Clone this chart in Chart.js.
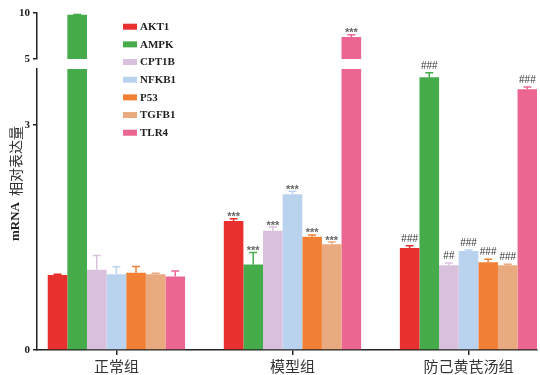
<!DOCTYPE html>
<html>
<head>
<meta charset="utf-8">
<script src="https://cdn.jsdelivr.net/npm/chart.js@4/dist/chart.umd.min.js"></script>
<style>
  html, body { margin: 0; padding: 0; background: #fff; }
  #wrap { position: relative; width: 540px; height: 375px; }
  #wrap canvas { position: absolute; left: 0; top: 0; }
</style>
</head>
<body>
<div id="wrap">
  <canvas id="lower" width="540" height="375"></canvas>
  <canvas id="upper" width="540" height="375"></canvas>
</div>
<script>
// Groups along the x axis
const groups = ['正常组', '模型组', '防己黄芪汤组'];

// Genes (one bar per gene in each group)
const genes = ['AKT1', 'AMPK', 'CPT1B', 'NFKB1', 'P53', 'TGFB1', 'TLR4'];
const geneColors = ['#e8312f', '#46ac4b', '#d9c1dd', '#b9d3ee', '#f18035', '#e8aa7e', '#eb6791'];

// Relative mRNA expression, mean per group
const AKT1  = [1.00, 1.72, 1.36];
const AMPK  = [9.82, 1.14, 3.64];
const CPT1B = [1.07, 1.59, 1.13];
const NFKB1 = [1.01, 2.08, 1.32];
const P53   = [1.03, 1.51, 1.17];
const TGFB1 = [1.01, 1.41, 1.13];
const TLR4  = [0.98, 7.39, 3.48];

// Upper error (SD) per group
const AKT1_err  = [0.01, 0.03, 0.03];
const AMPK_err  = [0.03, 0.16, 0.06];
const CPT1B_err = [0.19, 0.05, 0.03];
const NFKB1_err = [0.10, 0.04, 0.015];
const P53_err   = [0.085, 0.025, 0.04];
const TGFB1_err = [0.015, 0.03, 0.015];
const TLR4_err  = [0.075, 0.25, 0.03];

// Significance marks per gene: [control, model, treatment]
const AKT1_sig  = ['', '***', '###'];
const AMPK_sig  = ['', '***', '###'];
const CPT1B_sig = ['', '***', '##'];
const NFKB1_sig = ['', '***', '###'];
const P53_sig   = ['', '***', '###'];
const TGFB1_sig = ['', '***', '###'];
const TLR4_sig  = ['', '***', '###'];

// Broken y axis: lower and upper segments
const lowerRange = [0, 3.75];
const lowerTicks = [0, 3];
const upperRange = [5, 10];
const upperTicks = [5, 10];

const means  = [AKT1, AMPK, CPT1B, NFKB1, P53, TGFB1, TLR4];
const errors = [AKT1_err, AMPK_err, CPT1B_err, NFKB1_err, P53_err, TGFB1_err, TLR4_err];
const marks  = [AKT1_sig, AMPK_sig, CPT1B_sig, NFKB1_sig, P53_sig, TGFB1_sig, TLR4_sig];

const AXIS = '#222';

function buildDatasets() {
  return genes.map((g, i) => ({
    label: g,
    data: means[i].map((v, j) => ({ x: j, y: v })),
    errors: errors[i],
    marks: marks[i],
    backgroundColor: geneColors[i],
    borderWidth: 0,
    categoryPercentage: 0.78,
    barPercentage: 1.0
  }));
}

// Error bars with caps, plus significance marks above them
const errorBars = {
  id: 'errorBars',
  afterDatasetsDraw(chart) {
    const { ctx } = chart;
    const y = chart.scales.y;
    chart.data.datasets.forEach((ds, i) => {
      const meta = chart.getDatasetMeta(i);
      meta.data.forEach((bar, j) => {
        const v = ds.data[j].y;
        if (v < y.min || v > y.max) return;
        const top = y.getPixelForValue(v + ds.errors[j]);
        ctx.save();
        ctx.strokeStyle = ds.backgroundColor;
        ctx.lineWidth = 1.5;
        ctx.beginPath();
        ctx.moveTo(bar.x, bar.y);
        ctx.lineTo(bar.x, top);
        ctx.moveTo(bar.x - 4, top);
        ctx.lineTo(bar.x + 4, top);
        ctx.stroke();
        const m = ds.marks[j];
        if (m) {
          ctx.textAlign = 'center';
          ctx.textBaseline = 'alphabetic';
          if (m[0] === '*') {
            ctx.font = 'bold 11px "Liberation Sans"';
            ctx.fillStyle = '#666';
            ctx.fillText(m, bar.x, top + 1.5);
          } else {
            ctx.font = '10px "Liberation Sans"';
            ctx.fillStyle = '#333';
            ctx.fillText(m, bar.x, top - 4);
          }
        }
        ctx.restore();
      });
    });
  }
};

// Vertical legend inside the plot and the two-font y-axis title
const decorations = {
  id: 'decorations',
  afterDraw(chart) {
    const { ctx } = chart;
    ctx.save();
    ctx.font = 'bold 11px "Liberation Serif"';
    ctx.textBaseline = 'middle';
    ctx.textAlign = 'left';
    genes.forEach((g, i) => {
      const cy = 26.7 + i * 17.67;
      ctx.fillStyle = geneColors[i];
      ctx.fillRect(123, cy - 3, 14, 6);
      ctx.fillStyle = AXIS;
      ctx.fillText(g, 140, cy + 0.5);
    });
    ctx.restore();

    ctx.save();
    ctx.translate(16, 183.5);
    ctx.rotate(-Math.PI / 2);
    const fLatin = 'bold 13px "Liberation Serif"';
    const fCJK = '14px "Noto Sans CJK SC"';
    const part1 = 'mRNA', part2 = '相对表达量', gap = 6;
    ctx.font = fLatin; const w1 = ctx.measureText(part1).width;
    ctx.font = fCJK; const w2 = ctx.measureText(part2).width;
    const x0 = -(w1 + gap + w2) / 2;
    ctx.textBaseline = 'middle';
    ctx.textAlign = 'left';
    ctx.fillStyle = AXIS;
    ctx.font = fLatin; ctx.fillText(part1, x0, 0);
    ctx.fillStyle = '#333';
    ctx.font = fCJK; ctx.fillText(part2, x0 + w1 + gap, 0);
    ctx.restore();
  }
};

function makeChart(id, range, ticks, padding, showX, extraPlugins) {
  return new Chart(document.getElementById(id), {
    type: 'bar',
    data: { datasets: buildDatasets() },
    options: {
      responsive: false,
      animation: false,
      devicePixelRatio: 1,
      layout: { padding },
      plugins: { legend: { display: false }, tooltip: { enabled: false } },
      scales: {
        x: {
          type: 'linear',
          min: -0.451,
          max: 2.389,
          offset: false,
          display: showX,
          afterBuildTicks: s => { s.ticks = groups.map((_, i) => ({ value: i })); },
          afterFit: s => { if (showX) s.height = 25; },
          ticks: {
            callback: v => groups[v],
            font: { family: '"Noto Sans CJK SC"', size: 15 },
            color: '#333',
            padding: 2,
            maxRotation: 0,
            autoSkip: false
          },
          grid: { offset: false, drawOnChartArea: false, tickLength: 5, color: AXIS, lineWidth: 1.5 },
          border: { color: AXIS, width: 1.5 }
        },
        y: {
          min: range[0],
          max: range[1],
          afterBuildTicks: s => { s.ticks = ticks.map(v => ({ value: v })); },
          afterFit: s => { s.width = 37; },
          ticks: {
            font: { family: '"Liberation Serif"', size: 11, weight: 'bold' },
            color: AXIS,
            padding: 3
          },
          grid: { drawOnChartArea: false, tickLength: 4, color: AXIS, lineWidth: 1.5 },
          border: { color: AXIS, width: 1.5 }
        }
      }
    },
    plugins: [errorBars].concat(extraPlugins)
  });
}

makeChart('lower', lowerRange, lowerTicks, { left: 0, right: 3, top: 69, bottom: 0 }, true, [decorations]);
makeChart('upper', upperRange, upperTicks, { left: 0, right: 3, top: 13, bottom: 316 }, false, []);
</script>
</body>
</html>
